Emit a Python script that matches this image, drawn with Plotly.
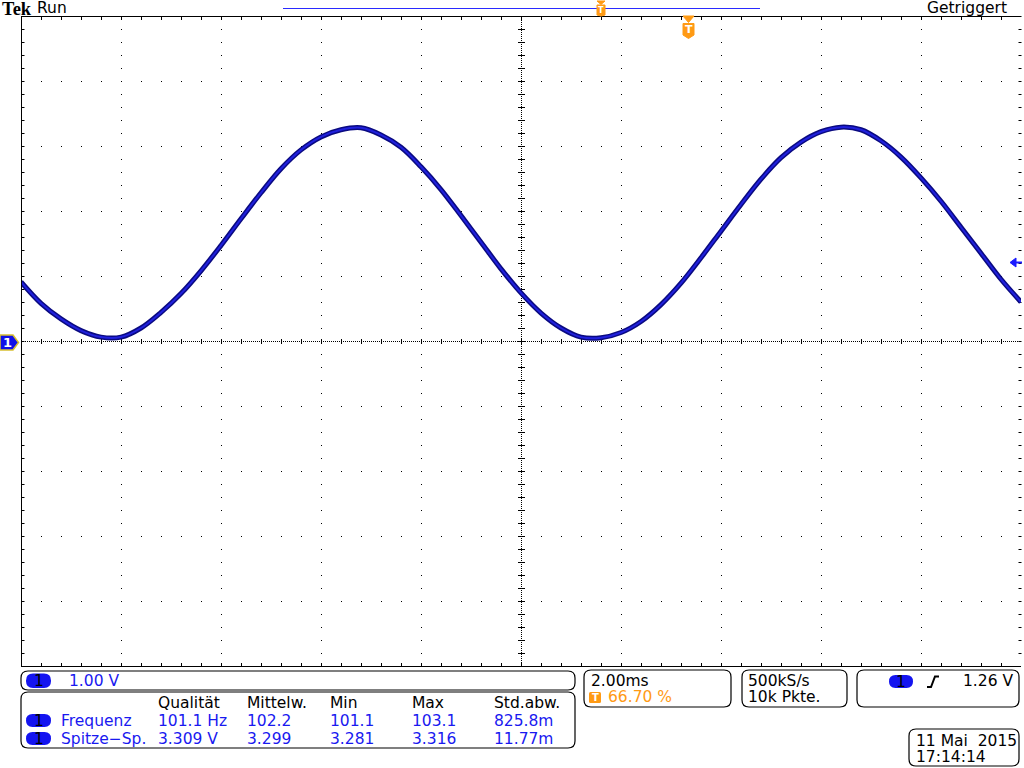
import plotly.graph_objects as go

# ------------------------------------------------------------------ data
# sample times (ms, 2 ms/div, screen centre = 0) and channel-1 voltages (V)
time_ms = [-10.0, -9.6, -9.2, -8.8, -8.4, -8.0, -7.6, -7.2, -6.8, -6.4,
           -6.0, -5.6, -5.2, -4.8, -4.4, -4.0, -3.6, -3.2, -2.8, -2.4,
           -2.0, -1.6, -1.2, -0.8, -0.4, 0.0, 0.4, 0.8, 1.2, 1.6,
           2.0, 2.4, 2.8, 3.2, 3.6, 4.0, 4.4, 4.8, 5.2, 5.6,
           6.0, 6.4, 6.8, 7.2, 7.6, 8.0, 8.4, 8.8, 9.2, 9.6, 10.0]
ch1_volts = [0.91, 0.58, 0.34, 0.16, 0.06, 0.06, 0.20, 0.44, 0.73, 1.08,
             1.47, 1.88, 2.28, 2.65, 2.94, 3.14, 3.25, 3.28, 3.17, 2.98,
             2.68, 2.33, 1.93, 1.52, 1.11, 0.74, 0.43, 0.20, 0.06, 0.05,
             0.13, 0.30, 0.56, 0.89, 1.28, 1.69, 2.10, 2.49, 2.82, 3.06,
             3.22, 3.29, 3.25, 3.08, 2.83, 2.51, 2.15, 1.75, 1.35, 0.95, 0.60]

volts_per_div = "1.00 V"
header_labels = ["Qualität", "Mittelw.", "Min", "Max", "Std.abw."]
row_names = ["Frequenz", "Spitze−Sp."]
freq_values = ["101.1 Hz", "102.2", "101.1", "103.1", "825.8m"]
pkpk_values = ["3.309 V", "3.299", "3.281", "3.316", "11.77m"]
timebase = "2.00ms"
trigger_pos = "66.70 %"
sample_rate = "500kS/s"
record_len = "10k Pkte."
trigger_level = "1.26 V"
date_text = "11 Mai  2015"
time_text = "17:14:14"

# ------------------------------------------------------------------ layout helpers
W, H = 1024, 768
L, T, PW, PH = 21, 16, 1000, 650
BLUE_TXT = "#1919f0"
PILL = "#1414f0"
ORANGE = "#ff9a14"
FONT = "DejaVu Sans"
FS = 15.5


def px(x):
    return (x - L) / PW


def py(y):
    return (T + PH - y) / PH


shapes = []
annotations = []


def line(x0, y0, x1, y1, color="black", width=1, dash="solid", layer="above"):
    shapes.append(dict(type="line", xref="paper", yref="paper",
                       x0=px(x0), y0=py(y0), x1=px(x1), y1=py(y1),
                       line=dict(color=color, width=width, dash=dash), layer=layer))


def path(points, fill=None, color="black", width=1, close=True):
    d = "M " + " L ".join(f"{px(a):.6f},{py(b):.6f}" for a, b in points)
    if close:
        d += " Z"
    shapes.append(dict(type="path", xref="paper", yref="paper", path=d,
                       fillcolor=fill if fill else "rgba(0,0,0,0)",
                       line=dict(color=color, width=width)))


def rrect(x0, y0, x1, y1, r, fill=None, color="black", width=1):
    def P(a, b):
        return f"{px(a):.6f},{py(b):.6f}"
    d = (f"M {P(x0 + r, y0)} L {P(x1 - r, y0)} Q {P(x1, y0)} {P(x1, y0 + r)} "
         f"L {P(x1, y1 - r)} Q {P(x1, y1)} {P(x1 - r, y1)} "
         f"L {P(x0 + r, y1)} Q {P(x0, y1)} {P(x0, y1 - r)} "
         f"L {P(x0, y0 + r)} Q {P(x0, y0)} {P(x0 + r, y0)} Z")
    shapes.append(dict(type="path", xref="paper", yref="paper", path=d,
                       fillcolor=fill if fill else "rgba(0,0,0,0)",
                       line=dict(color=color if color else "rgba(0,0,0,0)", width=width)))


def txt(x, y, s, color="black", size=FS, anchor="left", family=FONT):
    annotations.append(dict(x=px(x), y=py(y), xref="paper", yref="paper", text=s,
                            showarrow=False, xanchor=anchor, yanchor="middle",
                            font=dict(family=family, size=size, color=color),
                            borderpad=0))


# ------------------------------------------------------------------ graticule
for k in range(1, 10):
    if k == 5:
        continue
    yy = T + 65 * k + 0.5
    line(L, yy, L + PW, yy, dash="1px,19px", layer="below")
    xx = L + 100 * k + 0.5
    line(xx, T, xx, T + PH, dash="1px,12px", layer="below")
# centre lines with minor ticks
line(L, 341.5, L + PW, 341.5, dash="1px,1px", layer="below")
line(L, 341.5, L + PW, 341.5, width=5, dash="1px,19px", layer="below")
line(521.5, T, 521.5, T + PH, dash="1px,1px", layer="below")
line(521.5, T, 521.5, T + PH, width=7, dash="1px,12px", layer="below")
# frame and border ticks
line(L, 16.5, L + PW, 16.5)
line(L, 666.5, L + PW, 666.5)
line(21.5, T, 21.5, 667)
line(L, 18.5, L + PW, 18.5, width=3, dash="1px,19px", layer="below")
line(L, 664.5, L + PW, 664.5, width=3, dash="1px,19px", layer="below")
line(23, T, 23, T + PH, width=3, dash="1px,12px", layer="below")
line(1020, T, 1020, T + PH, width=3, dash="1px,12px", layer="below")

# ------------------------------------------------------------------ top bar
txt(0.5, 8.5, "<b>Tek</b>", size=18.5, family="Liberation Serif")
txt(36, 8, "Run")
txt(1008, 8, "Getriggert", anchor="right")
line(283, 8.5, 760, 8.5, color="#2a2aff", width=1)
# small trigger marker in record bar
path([(597, 1), (605, 1), (601, 4.5)], fill=ORANGE, color=ORANGE)
path([(597, 5), (605, 5), (605, 15), (601, 16), (597, 15)], fill=ORANGE, color=ORANGE)
txt(601, 10.5, "<b>T</b>", color="white", size=8, anchor="center")
# trigger position marker on graticule
path([(683, 16), (694, 16), (688.5, 22.5)], fill=ORANGE, color=ORANGE)
path([(683, 23.5), (694, 23.5), (694, 35), (688.5, 38.5), (683, 35)], fill=ORANGE, color=ORANGE)
txt(688.5, 30, "<b>T</b>", color="white", size=11, anchor="center")

# channel 1 ground marker
path([(0, 335), (13, 335), (18.5, 342.5), (13, 350), (0, 350)],
     fill="#1010e8", color="#d8c030", width=1.5)
txt(7.5, 342.5, "<b>1</b>", color="white", size=13, anchor="center")
# trigger level arrow
path([(1010, 262.5), (1016, 258), (1016, 267)], fill="#1a1aff", color="#1a1aff")
line(1014, 262.5, 1022, 262.5, color="#1a1aff", width=2)

# ------------------------------------------------------------------ bottom readouts
rrect(21, 671, 575, 690, 7, width=1.2)
rrect(26, 673.5, 51, 688, 7, fill=PILL, color=None)
txt(38.5, 681, "1", anchor="center")
txt(68, 681, volts_per_div, color=BLUE_TXT)

rrect(21, 692, 575, 748, 7, width=1.2)
col_x = [157, 246, 329, 411, 493]
for cx, lab in zip(col_x, header_labels):
    txt(cx, 702.5, lab)
for ry, name, vals in [(720.5, row_names[0], freq_values), (738.5, row_names[1], pkpk_values)]:
    rrect(26, ry - 6.5, 51, ry + 6.5, 6.5, fill=PILL, color=None)
    txt(38.5, ry, "1", anchor="center")
    txt(60, ry, name, color=BLUE_TXT)
    for cx, v in zip(col_x, vals):
        txt(cx, ry, v, color=BLUE_TXT)

rrect(584, 670, 731, 707, 7, width=1.2)
txt(590, 680.5, timebase)
rrect(589, 692, 601, 703, 1.5, fill=ORANGE, color=None)
txt(595, 697.5, "<b>T</b>", color="white", size=10, anchor="center")
txt(607, 697, trigger_pos, color=ORANGE)

rrect(742, 670, 847, 707, 7, width=1.2)
txt(747, 680.5, sample_rate)
txt(747, 697, record_len)

rrect(857, 670, 1019, 707, 7, width=1.2)
rrect(889, 675, 913, 688, 6.5, fill=PILL, color=None)
txt(901, 681.5, "1", anchor="center")
path([(927, 687), (931, 687), (935, 676.5), (939, 676.5)], color="black", width=2, close=False)
txt(962, 680.5, trigger_level)

rrect(909, 729, 1019, 766, 7, width=1.2)
txt(915, 740.5, date_text)
txt(915, 756.5, time_text)

# ------------------------------------------------------------------ figure
fig = go.Figure()
fig.add_trace(go.Scatter(x=time_ms, y=ch1_volts, mode="lines",
                         line=dict(color="#0a0a80", width=5, shape="spline"),
                         hoverinfo="skip", showlegend=False))
fig.add_trace(go.Scatter(x=time_ms, y=ch1_volts, mode="lines",
                         line=dict(color="#2020dc", width=2, shape="spline"),
                         hoverinfo="skip", showlegend=False))

fig.update_layout(
    width=W, height=H,
    margin=dict(l=L, r=W - L - PW, t=T, b=H - T - PH, pad=0),
    paper_bgcolor="white", plot_bgcolor="white",
    xaxis=dict(range=[-10, 10], showgrid=False, zeroline=False,
               showticklabels=False, ticks="", showline=False, fixedrange=True),
    yaxis=dict(range=[-5, 5], showgrid=False, zeroline=False,
               showticklabels=False, ticks="", showline=False, fixedrange=True),
    shapes=shapes, annotations=annotations, showlegend=False,
    font=dict(family=FONT),
)

fig.write_html("out.html", config={"displayModeBar": False},
               post_script="document.body.style.margin='0';")
